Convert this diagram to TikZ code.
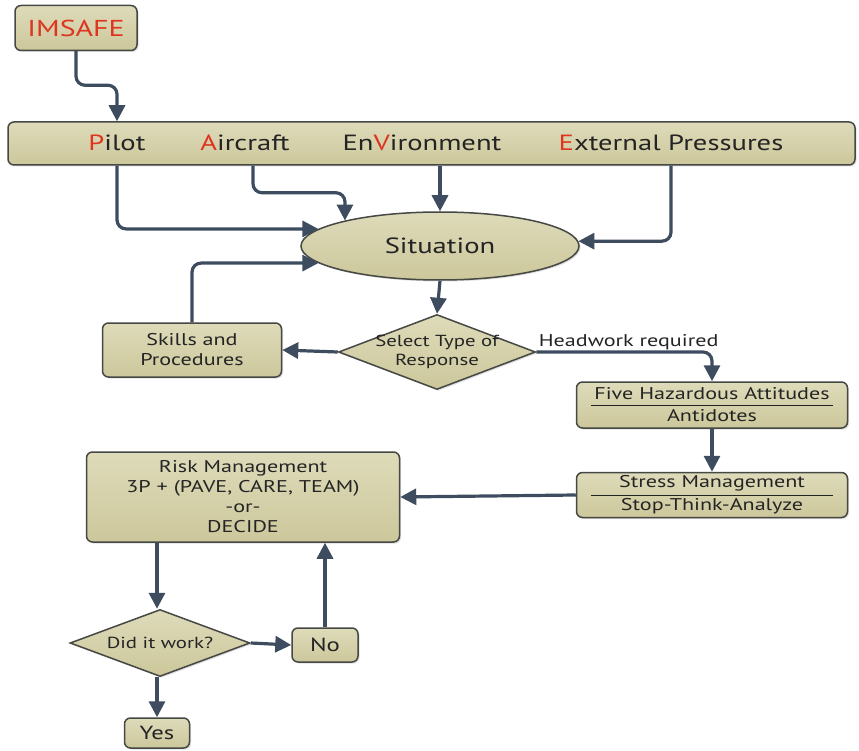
\documentclass[tikz,border=0pt]{standalone}
\usepackage{fontspec}
\setmainfont{PT Sans}[FakeStretch=1.3]
\usetikzlibrary{positioning, arrows.meta, shapes.geometric, shadows}
\definecolor{boxFill}{RGB}{204,199,155}
\definecolor{boxLight}{RGB}{222,219,186}
\definecolor{boxEdge}{RGB}{70,72,68}
\definecolor{arrBlue}{RGB}{62,76,96}
\definecolor{letterRed}{RGB}{222,52,32}
\definecolor{txtDark}{RGB}{36,36,36}
\newcommand{\redl}[1]{\textcolor{letterRed}{#1}}
\tikzset{
	khaki/.style={draw=boxEdge, line width=1.5pt, top color=boxLight, bottom color=boxFill,
		text=txtDark, drop shadow={opacity=0.25, shadow xshift=1.5pt, shadow yshift=-1.5pt}},
	stepbox/.style={khaki, rectangle, rounded corners=6pt, align=center, inner sep=0pt,
		font=\fontsize{17}{20}\selectfont},
	choice/.style={khaki, diamond, inner sep=0pt, label={[align=center, text=txtDark,
		font=\fontsize{16}{19}\selectfont]center:#1}},
	word/.style={font=\fontsize{22}{26}\selectfont, text=txtDark, inner sep=0pt},
	flowarr/.style={-{Triangle[length=16pt, width=16pt]}, line width=3.2pt, draw=arrBlue,
		rounded corners=9pt},
	sepline/.style={draw=txtDark, line width=0.9pt},
	edgelabel/.style={font=\fontsize{17}{20}\selectfont, text=txtDark, inner sep=1pt}
}
\begin{document}
\begin{tikzpicture}[x=1pt, y=-1pt]
	\useasboundingbox[fill=white] (0,0) rectangle (859,751);
	% top of the chart
	\node[stepbox, minimum width=122, minimum height=45, font=\fontsize{23}{27}\selectfont,
		text=letterRed] (imsafe) at (76,28) {IMSAFE};
	\node[stepbox, minimum width=847, minimum height=43] (bar) at (431.5,143.5) {};
	\node[word] (pilot) at (117,143) {\redl{P}ilot};
	\node[word] (aircraft) at (245,143) {\redl{A}ircraft};
	\node[word] (envir) at (422,143) {En\redl{V}ironment};
	\node[word] (extp) at (671,143) {\redl{E}xternal Pressures};
	\node[khaki, ellipse, minimum width=278, minimum height=68, inner sep=0pt,
		font=\fontsize{22}{26}\selectfont] (sit) at (440,246) {Situation};
	% response
	\node[choice={Select Type of\\Response}, minimum width=197, minimum height=75] (sel) at (437,352) {};
	\node[stepbox, minimum width=179, minimum height=54] (skills) at (192,350) {Skills and\\Procedures};
	\node[stepbox, minimum width=271, minimum height=46] (five) at (712,405)
		{Five Hazardous Attitudes\\[2pt]Antidotes};
	\node[stepbox, minimum width=271, minimum height=45] (stress) at (712,495)
		{Stress Management\\[3pt]Stop-Think-Analyze};
	\draw[sepline] ([xshift=15pt]five.west) -- ([xshift=-15pt]five.east);
	\draw[sepline] ([xshift=15pt]stress.west) -- ([xshift=-15pt]stress.east);
	% risk loop
	\node[stepbox, minimum width=313, minimum height=90] (risk) at (243,497)
		{Risk Management\\3P + (PAVE, CARE, TEAM)\\-or-\\DECIDE};
	\node[choice={Did it work?}, minimum width=180, minimum height=67] (did) at (160,643) {};
	\node[stepbox, minimum width=66, minimum height=34, font=\fontsize{19}{22}\selectfont] (no) at (325,645) {No};
	\node[stepbox, minimum width=65, minimum height=30, font=\fontsize{19}{22}\selectfont] (yes) at (157,733) {Yes};

	\draw[flowarr] (imsafe.south) -- ++(0,34) -| (pilot |- bar.north);
	\draw[flowarr] (pilot |- bar.south) |- (sit.172);
	\draw[flowarr] ([xshift=8pt]aircraft.south |- bar.south) -- ++(0,27) -| (sit.165);
	\draw[flowarr] (sit.north |- bar.south) -- (sit.north);
	\draw[flowarr] (extp |- bar.south) |- (sit.2);
	\draw[flowarr] (skills.north) |- (sit.188);
	\draw[flowarr] (sit.south) -- (sel.north);
	\draw[flowarr] (sel.east) -| node[edgelabel, pos=0, anchor=south west] {Headwork required} (five.north);
	\draw[flowarr] (sel.west) -- (skills.east);
	\draw[flowarr] (five.south) -- (stress.north);
	\draw[flowarr] (stress.west) -- (risk.east);
	\draw[flowarr] (risk.south -| 157,0) -- (did.north -| 157,0);
	\draw[flowarr] (did.east) -- (no.west);
	\draw[flowarr] (no.north) -- (no.north |- risk.south);
	\draw[flowarr] (did.south -| 157,0) -- (yes.north);
\end{tikzpicture}
\end{document}
